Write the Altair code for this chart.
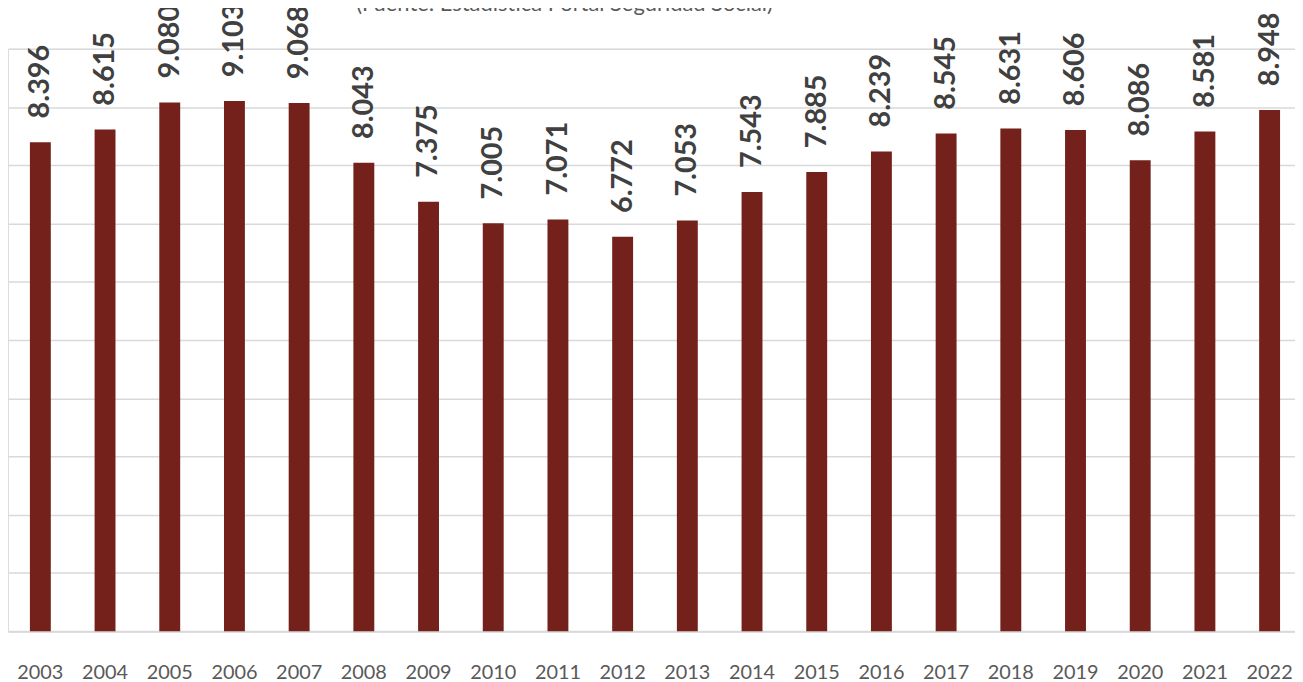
import altair as alt
import pandas as pd

years = [str(y) for y in range(2003, 2023)]
values = [8396, 8615, 9080, 9103, 9068, 8043, 7375, 7005, 7071, 6772,
          7053, 7543, 7885, 8239, 8545, 8631, 8606, 8086, 8581, 8948]
labels = [f"{v/1000:.3f}" for v in values]
subtitle = "(Fuente: Estadística Portal Seguridad Social)"

df = pd.DataFrame({"year": years, "value": values, "label": labels})

W, H = 1295, 586
x = alt.X("year:N", sort=years,
          scale=alt.Scale(range=[0, 1302], paddingInner=0.677, paddingOuter=0.3385),
          axis=alt.Axis(title=None, labelAngle=0, ticks=False, domain=True,
                        domainColor="#d9d9d9", domainWidth=2,
                        labelFont="Lato", labelFontSize=20, labelColor="#595959",
                        labelPadding=32, labelBaseline="top", grid=False))
y = alt.Y("value:Q", scale=alt.Scale(domain=[0, 10000], nice=False),
          axis=alt.Axis(title=None, labels=False, ticks=False, domain=False,
                        values=list(range(0, 10001, 1000)),
                        gridColor="#d9d9d9", gridWidth=1.5))

bars = alt.Chart(df).mark_bar(color="#73211A").encode(x=x, y=y)
text = alt.Chart(df).mark_text(angle=270, align="left", baseline="middle",
                               dx=24, font="Lato", fontWeight="bold",
                               fontSize=29, color="#404040").encode(
    x=alt.X("year:N", sort=years), y="value:Q", text="label:N")
title = alt.Chart(pd.DataFrame({"t": [subtitle]})).mark_text(
    font="Lato", fontSize=22, color="#595959", align="center",
    baseline="alphabetic").encode(x=alt.value(560), y=alt.value(-38), text="t:N")

chart = alt.layer(bars, text, title).properties(
    width=W, height=H,
    autosize=alt.AutoSizeParams(type="none"),
    padding={"left": 0, "top": 39, "right": 0, "bottom": 49},
).configure_view(stroke=None).configure(background="white")

chart.save("out.html", embed_options={"renderer": "svg", "actions": False})
